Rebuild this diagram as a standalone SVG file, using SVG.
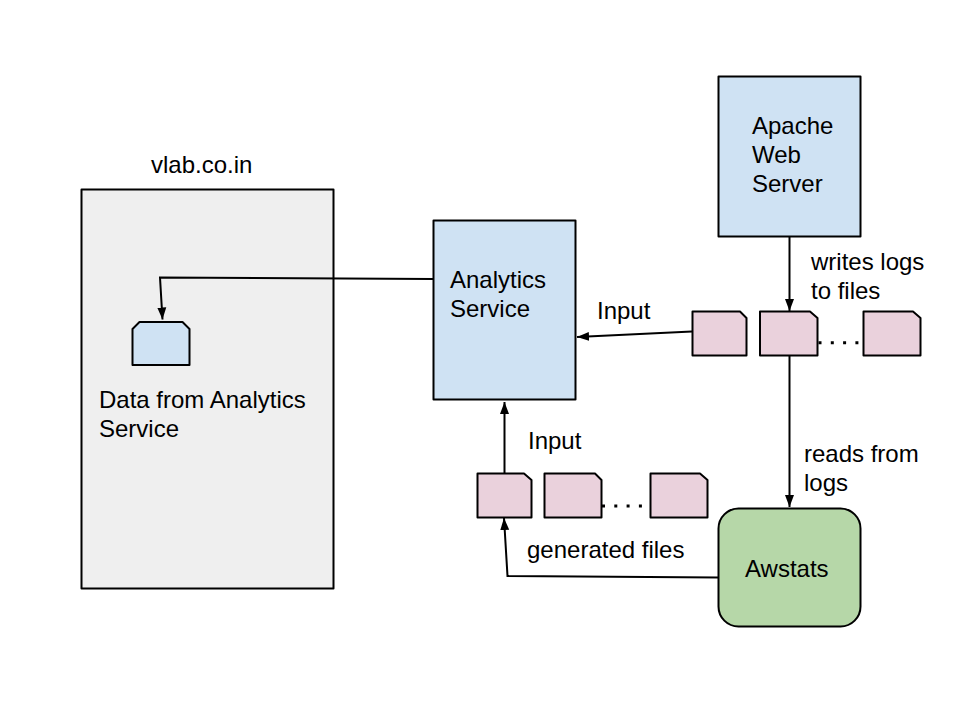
<svg xmlns="http://www.w3.org/2000/svg" width="960" height="720" viewBox="0 0 960 720">
<style>
.n{stroke:#000;stroke-width:2;stroke-linejoin:round}
.blue{fill:#cfe2f3}.pink{fill:#ead1dc}.green{fill:#b6d7a8}.grey{fill:#efefef}
.c{fill:none;stroke:#000;stroke-width:2}
.d{fill:none;stroke:#000;stroke-width:3;stroke-dasharray:3 9.300}
text{font-family:"Liberation Sans",Arial,sans-serif;font-size:24px;fill:#000}
</style>
<defs>
<marker id="a" markerUnits="userSpaceOnUse" markerWidth="14" markerHeight="12" refX="12" refY="5" orient="auto">
<path d="M0 0.500L12 5L0 9.500Z" fill="#000"/>
</marker>
</defs>
<rect width="960" height="720" fill="#fff"/>
<g id="vlab">
<rect class="n grey" x="81.500" y="189.500" width="252" height="399"/>
<text x="151" y="173">vlab.co.in</text>
<text x="99" y="408">Data from Analytics</text>
<text x="99" y="437">Service</text>
</g>
<g id="data-doc"><path class="n blue" d="M132.500 329L139.500 322H182.500L189.500 329V365H132.500Z"/></g>
<g id="analytics">
<rect class="n blue" x="433.500" y="220.500" width="142" height="179"/>
<text x="450" y="288">Analytics</text>
<text x="450" y="317">Service</text>
</g>
<g id="apache">
<rect class="n blue" x="718.500" y="76.500" width="142" height="160"/>
<text x="752" y="134">Apache</text>
<text x="752" y="163">Web</text>
<text x="752" y="192">Server</text>
</g>
<g id="awstats">
<rect class="n green" x="718.500" y="508.500" width="142" height="118" rx="20"/>
<text x="745" y="577">Awstats</text>
</g>
<g id="log1"><path class="n pink" d="M692.500 311.500H740L746.500 318V355.500H692.500Z"/></g>
<g id="log2"><path class="n pink" d="M760 311.500H810L817.500 318V355.500H760Z"/></g>
<g id="log3"><path class="n pink" d="M863.500 311.500H913L920.500 318V355.500H863.500Z"/></g>
<g id="gen1"><path class="n pink" d="M477.500 473.500H524L531.500 480V517.500H477.500Z"/></g>
<g id="gen2"><path class="n pink" d="M544.500 473.500H595L601.500 480V517.500H544.500Z"/></g>
<g id="gen3"><path class="n pink" d="M650.500 473.500H700L707.500 480V517.500H650.500Z"/></g>
<g id="connectors">
<path class="c" d="M433 279L160 277.500L162.500 319.500" marker-end="url(#a)"/>
<path class="c" d="M692 331.500L577 337" marker-end="url(#a)"/>
<path class="c" d="M789.500 237V311" marker-end="url(#a)"/>
<path class="c" d="M789.500 356V507" marker-end="url(#a)"/>
<path class="c" d="M504.500 473V402" marker-end="url(#a)"/>
<path class="c" d="M718 577.500L507.500 576L504 518" marker-end="url(#a)"/>
<path class="d" d="M818.500 342.700H860"/>
<path class="d" d="M602 506H648"/>
</g>
<g id="labels">
<text x="811" y="270">writes logs</text>
<text x="811" y="299">to files</text>
<text x="597" y="319">Input</text>
<text x="804" y="462">reads from</text>
<text x="804" y="491">logs</text>
<text x="528" y="449">Input</text>
<text x="527" y="558">generated files</text>
</g>
</svg>
